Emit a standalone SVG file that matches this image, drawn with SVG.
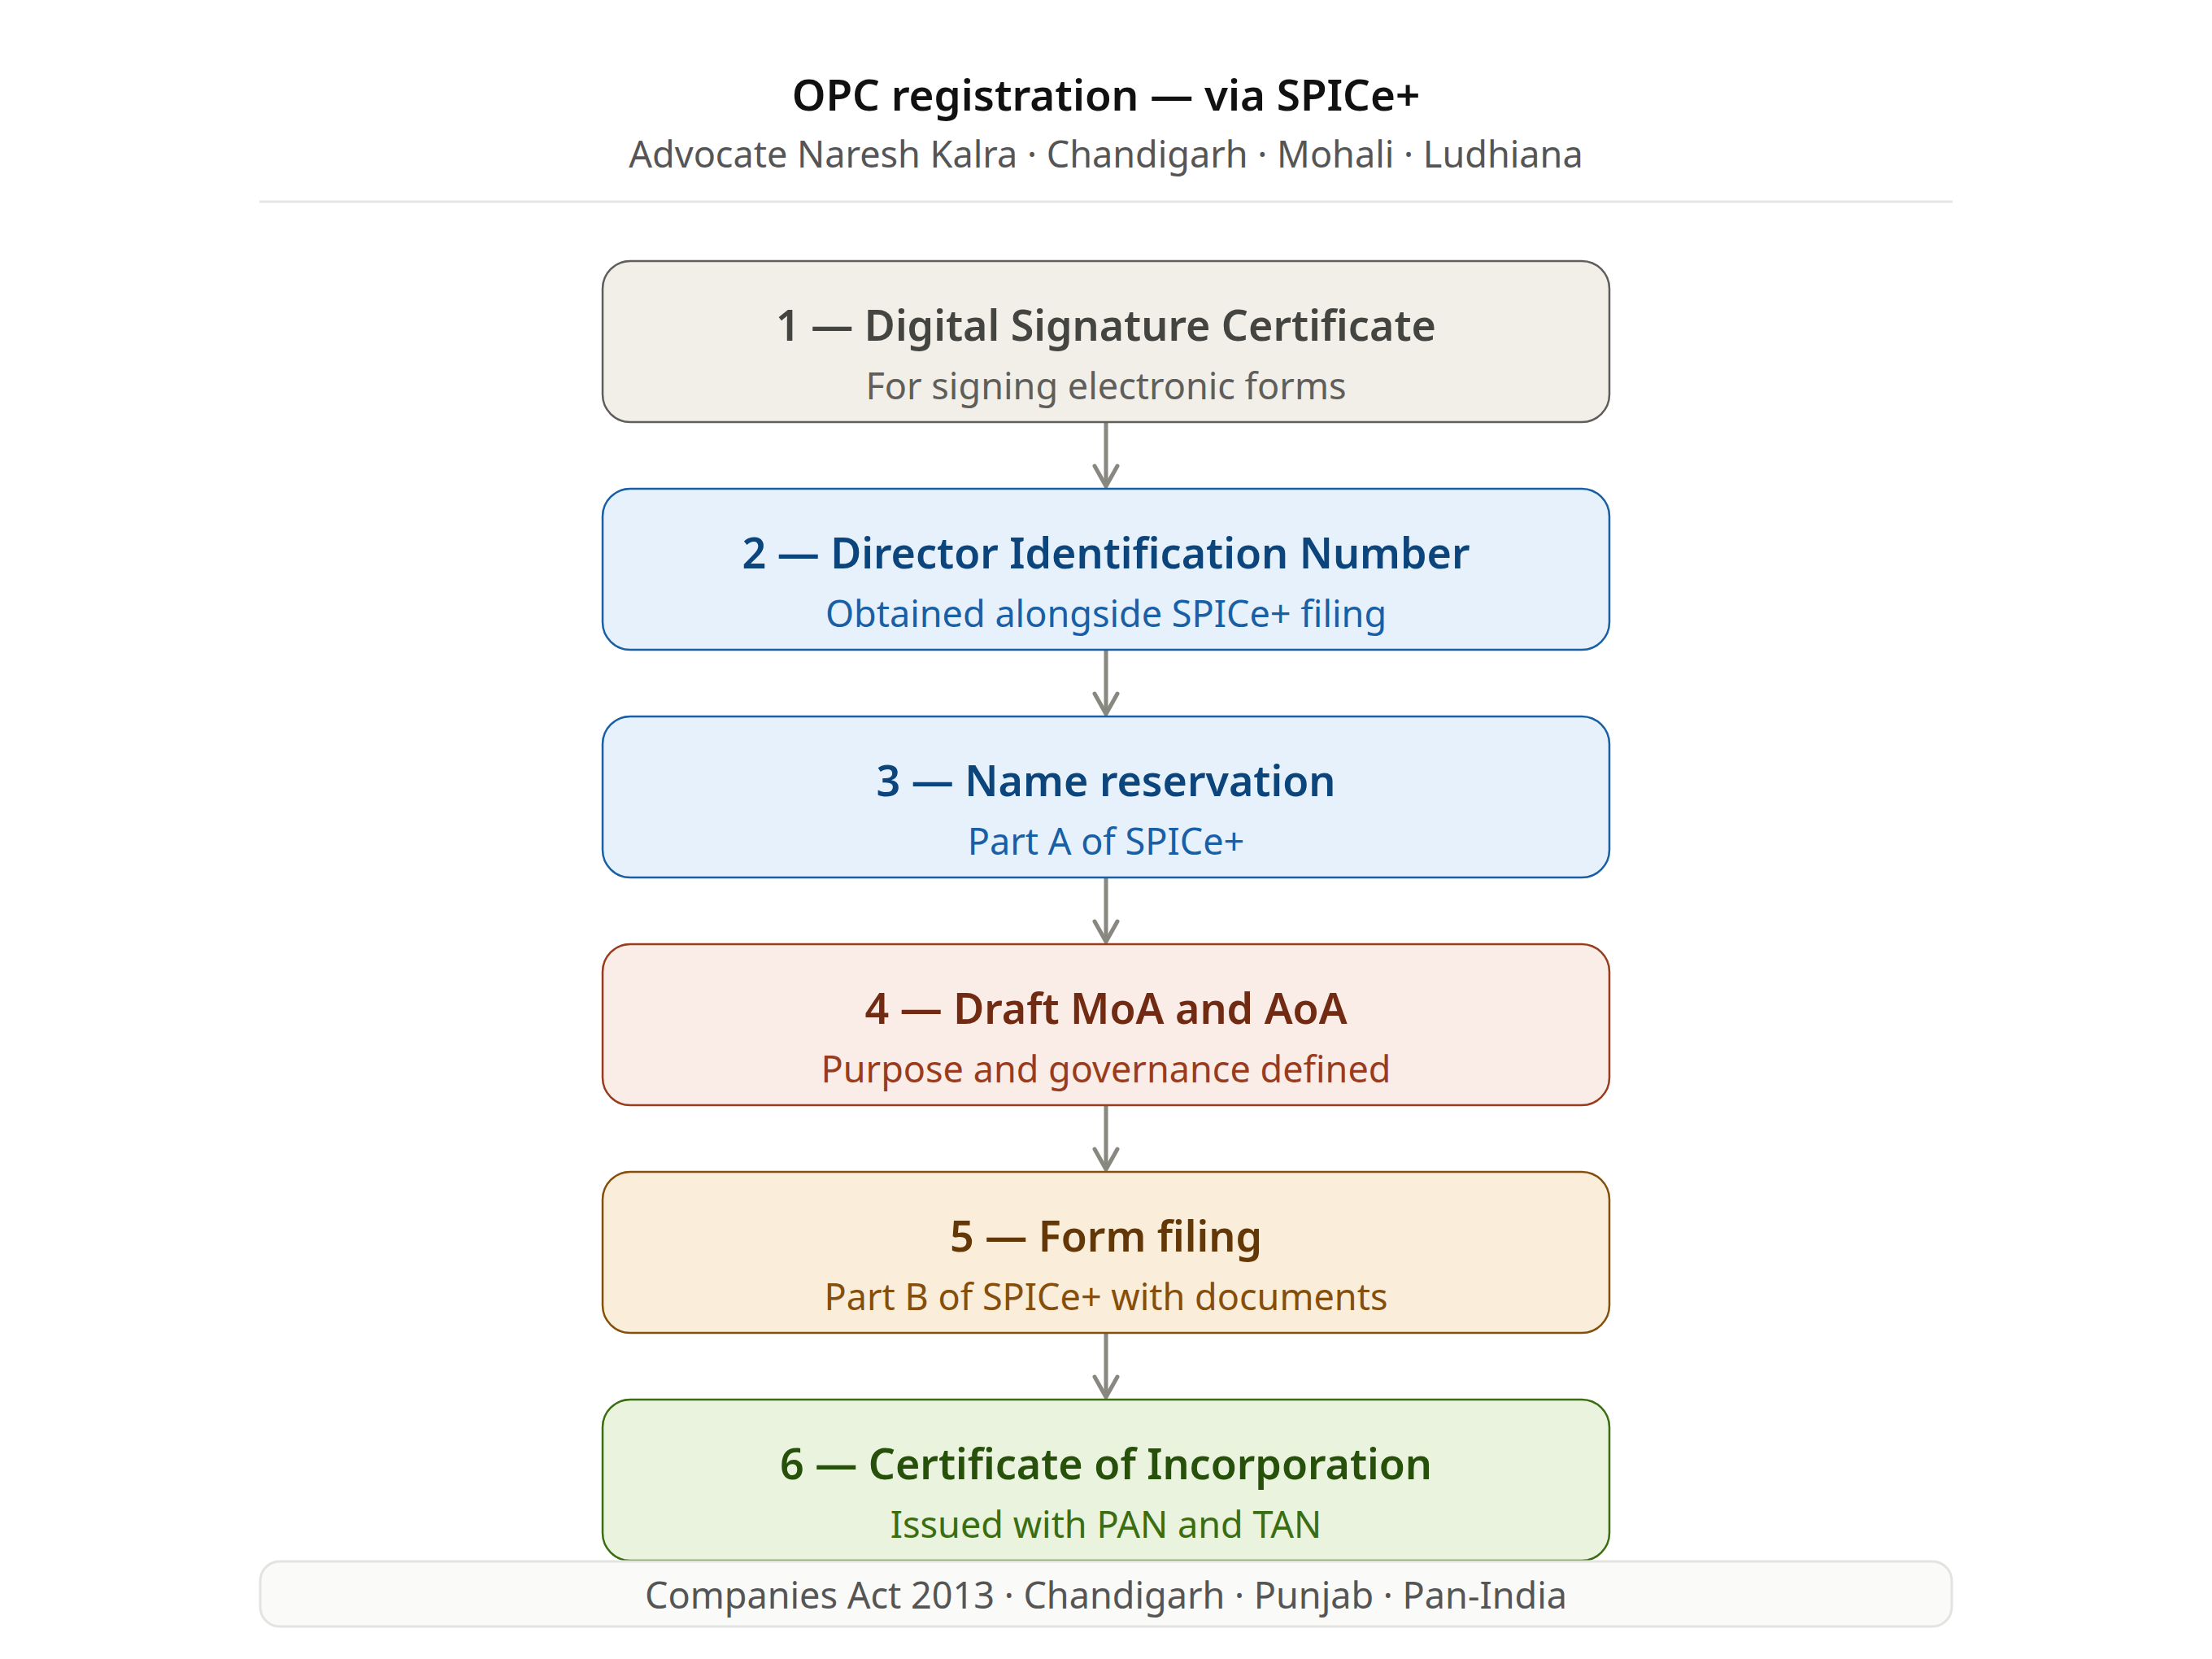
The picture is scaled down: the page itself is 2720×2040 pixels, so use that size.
<svg xmlns="http://www.w3.org/2000/svg" width="2720" height="2040" viewBox="0 0 2720 2040">
<defs>
<style>
.t{font-family:"Noto Sans","Open Sans","Liberation Sans",sans-serif;text-anchor:middle}
.ttl{font-size:53px;font-weight:600;fill:#111}
.sub{font-size:45px;fill:#555}
.nt{font-size:52px;font-weight:600}
.ns{font-size:45px}
.box{stroke-width:2.5}
.conn line{stroke:#888780;stroke-width:5;fill:none}
.conn path{stroke:#888780;stroke-width:5;fill:none;stroke-linecap:round;stroke-linejoin:round}
</style>
</defs>
<rect width="2720" height="2040" fill="#ffffff"/>
<g id="header">
<text class="t ttl" x="1360" y="136">OPC registration — via SPICe+</text>
<text class="t sub" x="1360" y="206">Advocate Naresh Kalra · Chandigarh · Mohali · Ludhiana</text>
<line x1="319" y1="248" x2="2401" y2="248" stroke="#e5e5e3" stroke-width="3"/>
</g>
<g id="connectors" class="conn">
<line x1="1360" y1="520" x2="1360" y2="598"/><path d="M1346,573 L1360,598 L1374,573"/>
<line x1="1360" y1="800" x2="1360" y2="878"/><path d="M1346,853 L1360,878 L1374,853"/>
<line x1="1360" y1="1080" x2="1360" y2="1158"/><path d="M1346,1133 L1360,1158 L1374,1133"/>
<line x1="1360" y1="1360" x2="1360" y2="1438"/><path d="M1346,1413 L1360,1438 L1374,1413"/>
<line x1="1360" y1="1640" x2="1360" y2="1718"/><path d="M1346,1693 L1360,1718 L1374,1693"/>
</g>
<g id="node1">
<rect class="box" x="741" y="321" width="1238" height="198" rx="34" fill="#f1efe8" stroke="#5f5e5a"/>
<text class="t nt" x="1360" y="419" fill="#444441">1 — Digital Signature Certificate</text>
<text class="t ns" x="1360" y="491" fill="#5f5e5a">For signing electronic forms</text>
</g>
<g id="node2">
<rect class="box" x="741" y="601" width="1238" height="198" rx="34" fill="#e6f1fb" stroke="#185fa5"/>
<text class="t nt" x="1360" y="699" fill="#0c447c">2 — Director Identification Number</text>
<text class="t ns" x="1360" y="771" fill="#185fa5">Obtained alongside SPICe+ filing</text>
</g>
<g id="node3">
<rect class="box" x="741" y="881" width="1238" height="198" rx="34" fill="#e6f1fb" stroke="#185fa5"/>
<text class="t nt" x="1360" y="979" fill="#0c447c">3 — Name reservation</text>
<text class="t ns" x="1360" y="1051" fill="#185fa5">Part A of SPICe+</text>
</g>
<g id="node4">
<rect class="box" x="741" y="1161" width="1238" height="198" rx="34" fill="#faece7" stroke="#993c1d"/>
<text class="t nt" x="1360" y="1259" fill="#712b13">4 — Draft MoA and AoA</text>
<text class="t ns" x="1360" y="1331" fill="#993c1d">Purpose and governance defined</text>
</g>
<g id="node5">
<rect class="box" x="741" y="1441" width="1238" height="198" rx="34" fill="#faeeda" stroke="#854f0b"/>
<text class="t nt" x="1360" y="1539" fill="#633806">5 — Form filing</text>
<text class="t ns" x="1360" y="1611" fill="#854f0b">Part B of SPICe+ with documents</text>
</g>
<g id="node6">
<rect class="box" x="741" y="1721" width="1238" height="198" rx="34" fill="#eaf3de" stroke="#3b6d11"/>
<text class="t nt" x="1360" y="1819" fill="#27500a">6 — Certificate of Incorporation</text>
<text class="t ns" x="1360" y="1891" fill="#3b6d11">Issued with PAN and TAN</text>
</g>
<g id="footer">
<rect x="320" y="1920" width="2080" height="80" rx="24" fill="#fafaf8" stroke="#e3e3e1" stroke-width="3"/>
<text class="t sub" x="1360" y="1978">Companies Act 2013 · Chandigarh · Punjab · Pan-India</text>
</g>
</svg>
